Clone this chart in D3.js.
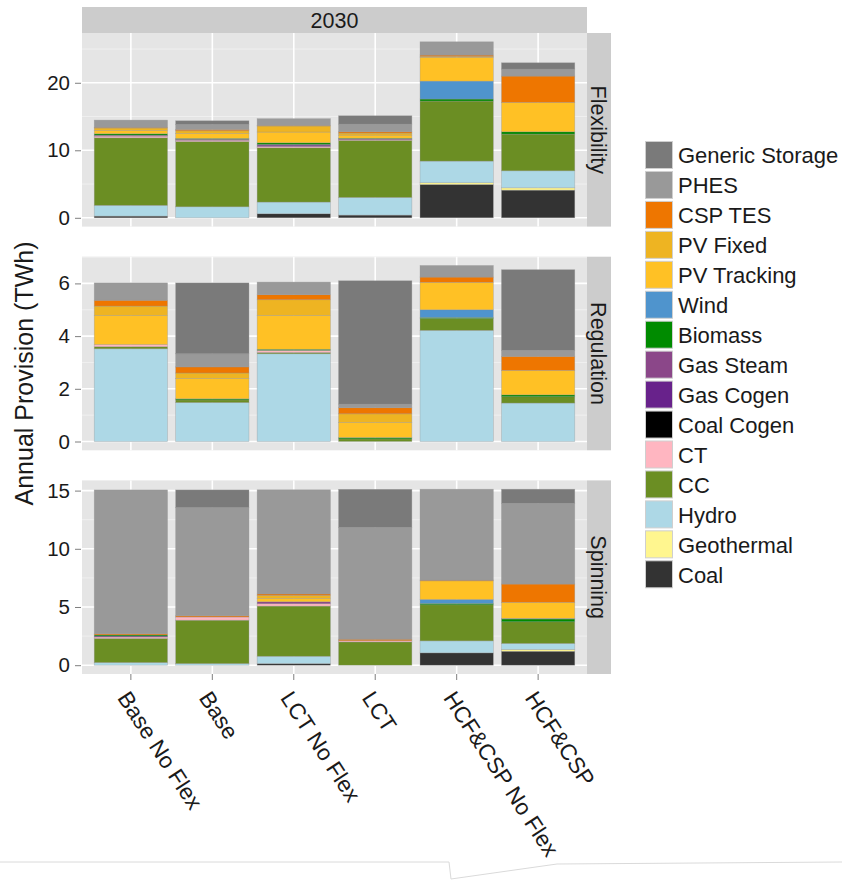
<!DOCTYPE html>
<html>
<head>
<meta charset="utf-8">
<script src="https://cdn.jsdelivr.net/npm/d3@7/dist/d3.min.js"></script>
<style>
  body { margin: 0; background: #fff; }
  svg { display: block; }
  text { font-family: "Liberation Sans", Arial, Helvetica, sans-serif; fill: #1a1a1a; }
</style>
</head>
<body>
<svg id="chart" width="842" height="880"></svg>
<script>
// Scenarios along the x axis
const scenarios = ["Base No Flex", "Base", "LCT No Flex", "LCT", "HCF&CSP No Flex", "HCF&CSP"];

// Technologies in stacking order (bottom to top)
const technologies = ["Coal", "Geothermal", "Hydro", "CC", "CT", "Coal Cogen", "Gas Cogen",
  "Gas Steam", "Biomass", "Wind", "PV Tracking", "PV Fixed", "CSP TES", "PHES", "Generic Storage"];
const techColors = ["#333333", "#FFF68F", "#ADD8E6", "#6B8E23", "#FFB6C1", "#000000", "#68228B",
  "#8B4789", "#008B00", "#4F94CD", "#FFC125", "#EEB422", "#EE7600", "#999999", "#7A7A7A"];

const yearLabel = "2030";
const services = ["Flexibility", "Regulation", "Spinning"];

// Annual provision (TWh), one row per scenario, columns in technology order
const flexibilityTWh = [
  [0.25, 0, 1.60, 10.00, 0.25, 0, 0.05, 0.10, 0.20, 0, 0.50, 0.35, 0.10, 1.07, 0],
  [0, 0, 1.63, 9.67, 0.20, 0, 0.05, 0.10, 0.11, 0, 0.73, 0.40, 0.20, 0.74, 0.54],
  [0.60, 0, 1.73, 8.04, 0.20, 0, 0.20, 0.10, 0.24, 0, 1.59, 0.90, 0.08, 1.00, 0],
  [0.40, 0, 2.62, 8.45, 0.10, 0, 0, 0.12, 0.10, 0, 0.46, 0.30, 0.19, 1.14, 1.23],
  [4.94, 0.25, 3.21, 8.89, 0, 0, 0, 0, 0.30, 2.66, 3.50, 0.15, 0.20, 1.97, 0],
  [4.10, 0.34, 2.52, 5.44, 0, 0, 0, 0, 0.34, 0, 4.35, 0, 3.90, 1.04, 0.93]
];
const regulationTWh = [
  [0, 0, 3.52, 0.08, 0.08, 0, 0, 0, 0, 0, 1.10, 0.36, 0.22, 0.66, 0],
  [0, 0, 1.48, 0.10, 0, 0, 0, 0, 0.04, 0, 0.77, 0.21, 0.23, 0.50, 2.69],
  [0, 0, 3.33, 0.05, 0.08, 0, 0, 0, 0.04, 0, 1.29, 0.59, 0.19, 0.48, 0],
  [0, 0, 0, 0.10, 0, 0, 0, 0, 0.05, 0, 0.57, 0.33, 0.23, 0.14, 4.68],
  [0, 0, 4.22, 0.45, 0, 0, 0, 0, 0.04, 0.29, 1.04, 0, 0.20, 0.44, 0],
  [0, 0, 1.46, 0.24, 0, 0, 0, 0, 0.07, 0, 0.93, 0, 0.53, 0.23, 3.06]
];
const spinningTWh = [
  [0, 0, 0.23, 2.07, 0.12, 0, 0.08, 0, 0.10, 0, 0, 0, 0.10, 12.36, 0],
  [0, 0, 0.14, 3.73, 0.27, 0, 0, 0, 0, 0, 0, 0, 0.10, 9.30, 1.52],
  [0.14, 0, 0.63, 4.31, 0.20, 0, 0, 0.17, 0, 0, 0.30, 0.25, 0.12, 8.95, 0],
  [0, 0, 0, 2.00, 0.10, 0, 0, 0, 0, 0, 0, 0, 0.13, 9.61, 3.27],
  [1.06, 0, 1.03, 3.10, 0, 0, 0, 0, 0.12, 0.34, 1.60, 0, 0.06, 7.81, 0],
  [1.20, 0.15, 0.52, 1.86, 0, 0, 0, 0, 0.24, 0.05, 1.38, 0, 1.57, 6.94, 1.21]
];

// Axis ticks for each facet row
const flexibilityTicks = [0, 10, 20];
const regulationTicks = [0, 2, 4, 6];
const spinningTicks = [0, 5, 10, 15];

const yAxisTitle = "Annual Provision (TWh)";

// ---------------------------------------------------------------
const facetData = [flexibilityTWh, regulationTWh, spinningTWh];
const facetTicks = [flexibilityTicks, regulationTicks, spinningTicks];

const svg = d3.select("#chart");
svg.append("rect").attr("width", 842).attr("height", 880).attr("fill", "#fff");

const plotLeft = 82, plotRight = 587;
const panelTop = 33, panelHeight = 193.6, panelGap = 30.1;
const stripW = 24;

const x = d3.scaleBand()
  .domain(scenarios)
  .range([plotLeft, plotRight])
  .paddingInner(0.1)
  .paddingOuter(0.15);

const stack = d3.stack()
  .keys(d3.range(technologies.length))
  .value((row, k) => row[k]);

// Top strip with the year
svg.append("rect")
  .attr("x", plotLeft).attr("y", 7)
  .attr("width", plotRight - plotLeft).attr("height", panelTop - 7)
  .attr("fill", "#CCCCCC");
svg.append("text")
  .attr("x", (plotLeft + plotRight) / 2).attr("y", 20)
  .attr("dy", "0.36em")
  .attr("text-anchor", "middle")
  .attr("font-size", 21.5)
  .text(yearLabel);

services.forEach((service, i) => {
  const top = panelTop + i * (panelHeight + panelGap);
  const bottom = top + panelHeight;
  const rows = facetData[i];
  const totals = rows.map(r => d3.sum(r));
  const maxTotal = d3.max(totals);
  const y = d3.scaleLinear()
    .domain([-0.05 * maxTotal, 1.05 * maxTotal])
    .range([bottom, top]);

  const g = svg.append("g");

  // panel background
  g.append("rect")
    .attr("x", plotLeft).attr("y", top)
    .attr("width", plotRight - plotLeft).attr("height", panelHeight)
    .attr("fill", "#E5E5E5");

  // minor grid lines halfway between major ticks
  const ticks = facetTicks[i];
  const step = ticks[1] - ticks[0];
  const minor = d3.range(ticks[0] - step / 2, y.domain()[1], step)
    .filter(v => v >= y.domain()[0] && v <= y.domain()[1]);
  g.selectAll(".minor").data(minor).join("line")
    .attr("x1", plotLeft).attr("x2", plotRight)
    .attr("y1", d => y(d)).attr("y2", d => y(d))
    .attr("stroke", "#F2F2F2").attr("stroke-width", 0.8);

  // major grid lines
  g.selectAll(".majorY").data(ticks).join("line")
    .attr("x1", plotLeft).attr("x2", plotRight)
    .attr("y1", d => y(d)).attr("y2", d => y(d))
    .attr("stroke", "#FFFFFF").attr("stroke-width", 1.6);
  g.selectAll(".majorX").data(scenarios).join("line")
    .attr("x1", d => x(d) + x.bandwidth() / 2).attr("x2", d => x(d) + x.bandwidth() / 2)
    .attr("y1", top).attr("y2", bottom)
    .attr("stroke", "#FFFFFF").attr("stroke-width", 1.6);

  // stacked bars
  const series = stack(rows);
  series.forEach((layer, k) => {
    g.append("g")
      .selectAll("rect")
      .data(layer.map((seg, j) => ({ seg, j })).filter(d => d.seg[1] - d.seg[0] > 0))
      .join("rect")
      .attr("x", d => x(scenarios[d.j]))
      .attr("width", x.bandwidth())
      .attr("y", d => y(d.seg[1]))
      .attr("height", d => y(d.seg[0]) - y(d.seg[1]))
      .attr("fill", techColors[k])
      .attr("stroke", "rgba(150,150,150,0.55)")
      .attr("stroke-width", 0.6);
  });

  // y axis
  const yAxis = d3.axisLeft(y).tickValues(ticks).tickSize(6).tickPadding(5);
  const ax = g.append("g")
    .attr("transform", `translate(${plotLeft - 1},0)`)
    .call(yAxis);
  ax.select(".domain").remove();
  ax.selectAll(".tick line").attr("stroke", "#7f7f7f").attr("stroke-width", 1);
  ax.selectAll(".tick text")
    .attr("font-size", 20.5)
    .attr("font-family", '"Liberation Sans", Arial, Helvetica, sans-serif')
    .attr("fill", "#1a1a1a");

  // right strip
  g.append("rect")
    .attr("x", plotRight).attr("y", top)
    .attr("width", stripW).attr("height", panelHeight)
    .attr("fill", "#CCCCCC");
  g.append("text")
    .attr("transform", `translate(${plotRight + stripW / 2},${top + panelHeight / 2}) rotate(90)`)
    .attr("text-anchor", "middle")
    .attr("dy", "0.36em")
    .attr("font-size", 21.5)
    .text(service);

  // x axis ticks and labels on the bottom row
  if (i === services.length - 1) {
    const xAxis = d3.axisBottom(x).tickSize(6).tickFormat("");
    const xa = g.append("g")
      .attr("transform", `translate(0,${bottom})`)
      .call(xAxis);
    xa.select(".domain").remove();
    xa.selectAll(".tick line").attr("stroke", "#7f7f7f");

    g.selectAll(".xlab").data(scenarios).join("text")
      .attr("transform", d => `translate(${x(d) + x.bandwidth() / 2 - 14},${bottom + 24}) rotate(57)`)
      .attr("text-anchor", "start")
      .attr("font-size", 22.5)
      .text(d => d);
  }
});

// y axis title
svg.append("text")
  .attr("transform", `translate(33,${panelTop + (3 * panelHeight + 2 * panelGap) / 2 + 20}) rotate(-90)`)
  .attr("text-anchor", "middle")
  .attr("font-size", 25)
  .text(yAxisTitle);

// legend
const legend = svg.append("g").attr("transform", "translate(645,141)");
const legendItems = technologies.map((t, k) => ({ t, c: techColors[k] })).reverse();
const keyStep = 29.95, keySize = 27;
legendItems.forEach((d, k) => {
  legend.append("rect")
    .attr("x", 0.5).attr("y", k * keyStep + 0.5)
    .attr("width", keySize).attr("height", keySize)
    .attr("fill", d.c)
    .attr("stroke", "#CFCFCF").attr("stroke-width", 1);
  legend.append("text")
    .attr("x", 33).attr("y", k * keyStep + keySize / 2 + 1)
    .attr("dy", "0.36em")
    .attr("font-size", 22)
    .text(d.t);
});

// faint page edge along the bottom
svg.append("polyline")
  .attr("points", "0,862 449,862 451,879 557,864 842,862")
  .attr("fill", "none")
  .attr("stroke", "#DADADA")
  .attr("stroke-width", 1);
</script>
</body>
</html>
